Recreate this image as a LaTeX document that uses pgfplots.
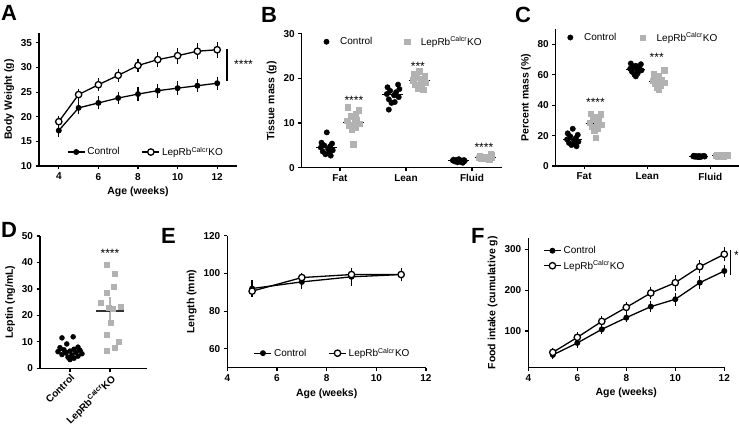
\documentclass[border=0pt]{standalone}
\usepackage{pgfplots}
\pgfplotsset{compat=1.18}
\usepackage{fontspec}
\setmainfont{Liberation Sans}
\setsansfont{Liberation Sans}
\definecolor{kogray}{RGB}{178,178,178}
\newcommand{\ko}{LepRb\textsuperscript{Calcr}KO}
\tikzset{sigstar/.style={font=\fontsize{12}{12}\selectfont, anchor=north, inner sep=0pt}}
\pgfplotsset{
 prism/.style={scale only axis, anchor=south west, axis lines=left,
   axis line style={-, line width=1.2pt},
   every tick/.style={black, line width=1.2pt},
   tick align=outside, major tick length=3.5pt,
   /pgf/number format/assume math mode=true,
   tick label style={font=\fontsize{10}{11}\selectfont\bfseries},
   label style={font=\fontsize{10.5}{12}\selectfont\bfseries},
   legend cell align=left,
   legend style={draw=none, fill=none, font=\fontsize{10}{12}\selectfont,
     /tikz/every even column/.append style={column sep=20pt}},
   legend columns=2, clip=false},
 ctrl/.style={black, line width=1.3pt, mark=*, mark size=2.3pt,
   error bars/.cd, y dir=both, y explicit, error mark=-,
   error bar style={line width=1.3pt}, error mark options={line width=1.3pt, mark size=3pt}},
 kol/.style={black, line width=1.3pt, mark=*, mark size=3.2pt, mark options={fill=white, line width=1.3pt},
   error bars/.cd, y dir=both, y explicit, error mark=-,
   error bar style={line width=1.3pt}, error mark options={line width=1.3pt, mark size=3pt}},
 ctrlpts/.style={only marks, mark=*, mark size=2.7pt, black},
 kopts/.style={only marks, mark=square*, mark size=2.7pt, kogray, mark options={draw=kogray, fill=kogray}},
 meanl/.style={black, line width=0.8pt, forget plot},
 scatlegend/.style={legend style={/tikz/every odd column/.append style={column sep=9pt},
     /tikz/every even column/.append style={column sep=#1}}},
 scatlegend/.default=30pt,
}
\begin{document}
\begin{tikzpicture}
\path[use as bounding box] (0,0) rectangle (739pt,426pt);
% panel letters
\begin{scope}[every node/.style={anchor=north west, inner sep=0pt, font=\fontsize{22}{22}\selectfont\bfseries}]
\node at (1pt,421pt) {A};
\node at (261pt,419pt) {B};
\node at (515pt,419pt) {C};
\node at (1pt,204pt) {D};
\node at (161pt,198pt) {E};
\node at (471pt,198pt) {F};
\end{scope}

% ---------------- A
\begin{axis}[prism, at={(39pt,260pt)}, width=198pt, height=133pt,
  xmin=3, xmax=13, ymin=10, ymax=37, xtick={4,6,...,12}, ytick={10,15,...,35},
  xlabel={Age (weeks)}, ylabel={Body Weight (g)},
  legend style={at={(0.54,0.105)}, anchor=center}]
\addplot[ctrl] coordinates {(4,17.2)+-(0,0.7) (5,21.8)+-(0,0.7) (6,22.8)+-(0,0.7) (7,23.8)+-(0,0.7) (8,24.6)+-(0,0.8) (9,25.3)+-(0,0.8) (10,25.8)+-(0,0.8) (11,26.3)+-(0,0.7) (12,26.8)+-(0,0.7)};
\addlegendentry{Control}
\addplot[kol] coordinates {(4,19.0)+-(0,0.5) (5,24.5)+-(0,0.6) (6,26.5)+-(0,0.7) (7,28.4)+-(0,0.7) (8,30.4)+-(0,0.8) (9,31.6)+-(0,0.9) (10,32.4)+-(0,1.0) (11,33.3)+-(0,1.0) (12,33.6)+-(0,1.0)};
\addlegendentry{\ko}
\draw[line width=1.3pt] (axis cs:12.5,33.8) -- (axis cs:12.5,27.2);
\node[sigstar] at (axis cs:13.33,31.6) {****};
\end{axis}

% ---------------- B
\begin{axis}[prism, scatlegend, at={(301.7pt,258.3pt)}, width=200pt, height=134pt,
  xmin=-0.58, xmax=2.45, ymin=0, ymax=30, ytick={0,10,20,30},
  xtick={0,1,2}, xticklabels={Fat,Lean,Fluid},
  ylabel={Tissue mass (g)},
  legend style={at={(0.51,0.94)}, anchor=center}]
\addplot[ctrlpts] table {
x y
-0.2 7.9
-0.28 5.6
-0.12 5.4
-0.24 5.0
-0.15 4.8
-0.29 4.5
-0.18 4.2
-0.11 3.9
-0.26 3.6
-0.17 3.3
-0.22 3.0
-0.14 2.7
0.88 18.6
0.72 18.0
0.9 17.6
0.76 17.2
0.85 16.9
0.71 16.5
0.82 16.2
0.89 15.8
0.74 15.3
0.83 14.7
0.78 14.5
0.74 13.0
1.8 1.9
1.72 1.8
1.88 1.7
1.76 1.7
1.85 1.6
1.71 1.6
1.82 1.5
1.89 1.5
1.74 1.4
1.83 1.3
1.78 1.2
1.86 1.1
};
\addlegendentry{Control}
\addplot[kopts] table {
x y
0.12 13.5
0.28 12.9
0.24 12.0
0.16 11.5
0.25 10.8
0.11 10.5
0.22 10.2
0.29 9.8
0.14 9.5
0.23 9.0
0.18 8.5
0.2 5.3
1.2 21.6
1.12 21.0
1.28 20.5
1.16 20.2
1.25 19.9
1.11 19.6
1.22 19.3
1.29 19.0
1.14 18.6
1.23 18.2
1.18 17.8
1.26 17.5
2.28 3.0
2.3 2.8
2.12 2.6
2.16 2.5
2.25 2.4
2.11 2.3
2.22 2.3
2.29 2.2
2.14 2.1
2.23 2.0
2.18 2.0
2.26 1.9
};
\addlegendentry{\ko}
\addplot[meanl] coordinates {(-0.36,4.6) (-0.04,4.6)};
\addplot[meanl] coordinates {(0.04,10.1) (0.36,10.1)};
\addplot[meanl] coordinates {(0.64,16.3) (0.96,16.3)};
\addplot[meanl] coordinates {(1.04,19.5) (1.36,19.5)};
\addplot[meanl] coordinates {(1.64,1.6) (1.96,1.6)};
\addplot[meanl] coordinates {(2.04,2.4) (2.36,2.4)};
\node[sigstar] at (axis cs:0.21,16.0) {****};
\node[sigstar] at (axis cs:1.18,23.6) {***};
\node[sigstar] at (axis cs:2.18,5.5) {****};
\end{axis}

% ---------------- C
\begin{axis}[prism, scatlegend=22pt, at={(555.7pt,260pt)}, width=183pt, height=136.7pt,
  xmin=-0.45, xmax=2.45, ymin=0, ymax=90, ytick={0,20,...,80},
  xtick={0,1,2}, xticklabels={Fat,Lean,Fluid},
  ylabel={Percent mass (\%)},
  legend style={at={(0.48,0.94)}, anchor=center}]
\addplot[ctrlpts] table {
x y
-0.18 24.5
-0.26 21.5
-0.1 20.5
-0.22 19.5
-0.13 18.5
-0.27 17.5
-0.16 16.8
-0.09 16.0
-0.24 15.2
-0.15 14.5
-0.2 13.8
-0.12 13.0
0.74 67.5
0.9 67.0
0.82 66.0
0.78 65.5
0.87 64.5
0.73 64.0
0.84 63.5
0.91 63.0
0.76 62.0
0.85 61.0
0.8 60.0
0.82 59.0
1.74 6.8
1.9 6.7
1.82 6.6
1.78 6.5
1.87 6.4
1.73 6.3
1.84 6.3
1.91 6.2
1.76 6.1
1.85 6.0
1.8 5.9
1.82 5.8
};
\addlegendentry{Control}
\addplot[kopts] table {
x y
0.1 34.5
0.26 34.0
0.18 32.0
0.14 30.5
0.23 29.5
0.09 28.5
0.2 28.0
0.27 27.0
0.12 26.0
0.21 25.0
0.16 23.5
0.18 18.5
1.27 63.0
1.1 60.5
1.18 59.0
1.14 57.5
1.23 56.5
1.09 56.0
1.2 55.5
1.27 55.0
1.12 54.0
1.21 53.0
1.16 52.0
1.18 50.5
2.27 7.6
2.1 7.3
2.18 7.1
2.14 7.0
2.23 6.9
2.09 6.8
2.2 6.7
2.27 6.6
2.12 6.5
2.21 6.4
2.16 6.3
2.18 6.2
};
\addlegendentry{\ko}
\addplot[meanl] coordinates {(-0.33,17.7) (-0.03,17.7)};
\addplot[meanl] coordinates {(0.03,28.3) (0.33,28.3)};
\addplot[meanl] coordinates {(0.67,63.5) (0.97,63.5)};
\addplot[meanl] coordinates {(1.03,55.5) (1.33,55.5)};
\addplot[meanl] coordinates {(1.67,6.3) (1.97,6.3)};
\addplot[meanl] coordinates {(2.03,6.8) (2.33,6.8)};
\node[sigstar] at (axis cs:0.18,44.5) {****};
\node[sigstar] at (axis cs:1.15,74.5) {***};
\end{axis}

% ---------------- D
\begin{axis}[prism, at={(40pt,57.7pt)}, width=106.7pt, height=132.3pt,
  xmin=-0.75, xmax=1.92, ymin=0, ymax=50, ytick={0,10,...,50},
  xtick={0,1}, xticklabels={Control,\ko},
  x tick label style={rotate=45, anchor=north east, inner sep=1pt},
  ylabel={Leptin (ng/mL)}]
\addplot[ctrlpts, mark size=2.5pt] table {
x y
-0.2 11.5
0.08 11.9
-0.08 9.2
-0.25 7.8
0.2 8.0
-0.15 7.0
0.1 7.2
0.25 6.8
-0.3 6.3
0.0 6.5
0.15 6.0
-0.1 5.8
0.3 5.5
-0.2 5.2
0.05 5.0
0.2 4.6
-0.05 4.2
0.1 3.8
0.0 3.3
};
\addplot[kopts, mark size=2.5pt] table {
x y
0.92 39.0
1.12 35.8
1.1 30.7
0.92 28.7
0.77 24.9
1.28 23.2
0.96 23.0
1.08 22.4
1.02 17.2
0.92 12.8
1.22 10.0
1.12 7.9
0.92 6.6
};
\addplot[meanl, line width=1.2pt] coordinates {(-0.33,6.6) (0.33,6.6)};
\addplot[kogray, line width=1.2pt, mark=none, forget plot, error bars/.cd, y dir=both, y explicit, error mark=-,
  error bar style={line width=1.2pt, kogray}, error mark options={line width=1.2pt, mark size=6pt, kogray}]
  coordinates {(1,21.7)+-(0,2.9)};
\addplot[black!80, line width=1.4pt, forget plot] coordinates {(0.65,21.7) (1.35,21.7)};
\node[sigstar] at (axis cs:1.0,44.9) {****};
\end{axis}

% ---------------- E
\begin{axis}[prism, at={(227.3pt,58.3pt)}, width=198.7pt, height=132pt,
  xmin=4, xmax=12, ymin=50, ymax=120, ytick={60,80,100,120}, xtick={4,6,...,12},
  xlabel={Age (weeks)}, ylabel={Length (mm)},
  legend style={at={(0.53,0.11)}, anchor=center}]
\addplot[ctrl] coordinates {(5,92.0)+-(0,2.7) (7,95.5)+-(0,2.2) (9,98.2)+-(0,3.3) (11,99.4)+-(0,2.0)};
\addlegendentry{Control}
\addplot[kol] coordinates {(5,90.6)+-(0,1.5) (7,97.8)+-(0,1.0) (9,99.4)+-(0,2.0) (11,99.4)+-(0,2.0)};
\addlegendentry{\ko}
\end{axis}

% ---------------- F
\begin{axis}[prism, at={(528.3pt,58.7pt)}, width=196pt, height=129pt,
  xmin=4, xmax=12, ymin=11, ymax=327, ytick={100,200,300}, xtick={4,6,...,12},
  xlabel={Age (weeks)}, ylabel={Food intake (cumulative g)},
  legend columns=1,
  legend style={at={(0.06,0.97)}, anchor=north west, row sep=1.5pt}]
\addplot[ctrl] coordinates {(5,41.3)+-(0,3) (6,70.6)+-(0,4) (7,104)+-(0,4) (8,132.6)+-(0,4) (9,159.6)+-(0,7) (10,177.7)+-(0,9) (11,218.3)+-(0,8) (12,246.9)+-(0,7)};
\addlegendentry{Control}
\addplot[kol] coordinates {(5,47.6)+-(0,4) (6,84.3)+-(0,5) (7,123.5)+-(0,5) (8,157.8)+-(0,6) (9,193)+-(0,8) (10,218.3)+-(0,12) (11,257.5)+-(0,9) (12,288)+-(0,10)};
\addlegendentry{\ko}
\draw[line width=1.3pt] (axis cs:12.26,298) -- (axis cs:12.26,238);
\node[sigstar] at (axis cs:12.5,296) {*};
\end{axis}
\end{tikzpicture}
\end{document}
